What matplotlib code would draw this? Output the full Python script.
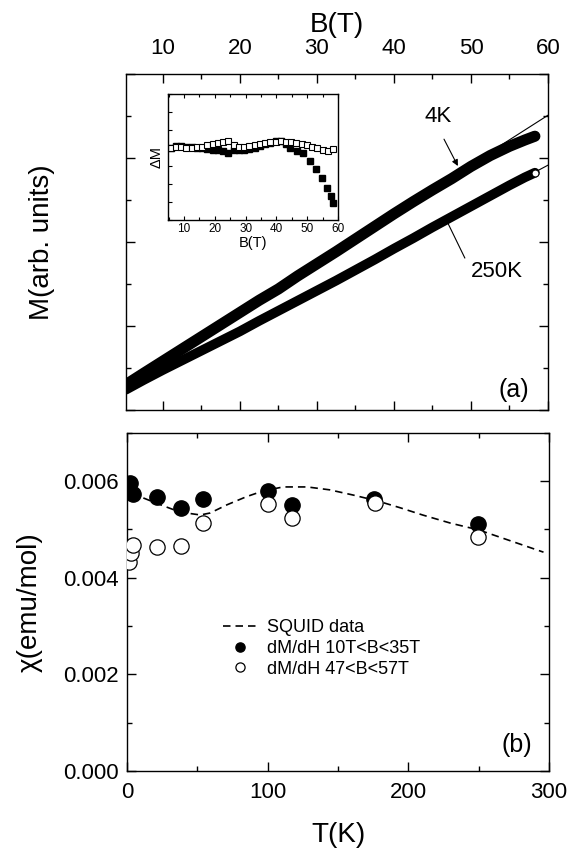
import matplotlib
matplotlib.use('Agg')
import matplotlib.pyplot as plt
from matplotlib.ticker import MultipleLocator, FormatStrFormatter

plt.rcParams['font.family'] = ['Liberation Sans', 'DejaVu Sans']

# --- panel (a): magnetisation vs field ---
B_curve = [5.2, 7.5, 10, 12.5, 15, 17.5, 20, 22.5, 25, 27.5, 30, 32.5,
           35, 37.5, 40, 42.5, 45, 47.5, 50, 52.5, 55, 57, 58.3]
M_4K = [0.60, 0.87, 1.16, 1.45, 1.74, 2.03, 2.32, 2.61, 2.88, 3.19, 3.48, 3.77,
        4.07, 4.37, 4.67, 4.96, 5.24, 5.51, 5.80, 6.06, 6.28, 6.43, 6.52]
M_250K = [0.48, 0.71, 0.95, 1.18, 1.41, 1.64, 1.87, 2.12, 2.36, 2.60, 2.84, 3.08,
          3.33, 3.58, 3.84, 4.09, 4.35, 4.60, 4.85, 5.10, 5.35, 5.54, 5.65]

# linear fits (end points)
fit_B = [5.2, 60]
fit_4K = [0.60, 7.02]
fit_250K = [0.48, 5.83]

# inset: Delta M
B_inset = [5.7, 7.4, 9.1, 10.8, 12.5, 14.2, 15.9, 17.6, 19.3, 21.0, 22.7, 24.4,
           26.1, 27.8, 29.5, 31.2, 32.9, 34.6, 36.3, 38.0, 39.7, 41.4, 43.1, 44.8,
           46.5, 48.2, 49.9, 51.6, 53.3, 55.0, 56.7, 58.3]
dM_250K = [3.98, 4.07, 4.02, 4.00, 4.00, 4.03, 4.07, 4.15, 4.22, 4.28, 4.33, 4.38,
           4.15, 4.07, 4.07, 4.10, 4.15, 4.20, 4.25, 4.30, 4.33, 4.35, 4.33, 4.30,
           4.25, 4.20, 4.13, 4.05, 3.97, 3.88, 3.82, 3.92]
B_inset4 = [5.7, 7.4, 9.1, 10.8, 12.5, 14.2, 15.9, 17.6, 19.3, 21.0, 22.7, 24.4,
            26.1, 27.8, 29.5, 31.2, 32.9, 34.6, 36.3, 38.0, 39.7, 41.4, 43.1, 44.4,
            46.6, 48.7, 50.9, 52.8, 54.9, 56.5, 57.7, 58.3]
dM_4K = [4.00, 4.12, 4.10, 4.07, 4.05, 4.00, 3.98, 3.95, 3.90, 3.85, 3.80, 3.70,
         3.85, 3.88, 3.90, 3.92, 4.00, 4.10, 4.20, 4.28, 4.38, 4.40, 4.20, 3.98,
         3.84, 3.70, 3.24, 2.81, 2.31, 1.76, 1.30, 0.96]

# --- panel (b): susceptibility vs temperature ---
T_squid = [3, 10, 22, 37.6, 52, 59, 71, 85, 97, 111, 128, 144, 161, 178, 194,
           210, 230, 250, 267, 296]
chi_squid = [0.00572, 0.00567, 0.00553, 0.00536, 0.00530, 0.00534, 0.00551,
             0.00568, 0.00580, 0.00588, 0.00588, 0.00582, 0.00571, 0.00559,
             0.00545, 0.00530, 0.00513, 0.00499, 0.00482, 0.00453]
T_low = [2, 4.5, 21, 38, 54, 100, 117, 175.5, 249.5]
chi_low = [0.00596, 0.00573, 0.00567, 0.00545, 0.00563, 0.00580, 0.00551, 0.00563, 0.00511]
T_high = [1.5, 2.5, 4.2, 21, 38, 54, 100, 117, 176, 249.5]
chi_high = [0.00433, 0.00451, 0.00468, 0.00464, 0.00466, 0.00513, 0.00553,
            0.00524, 0.00555, 0.00484]

fig = plt.figure(figsize=(5.75, 8.52), dpi=100)
ax1 = fig.add_axes([0.219, 0.519, 0.734, 0.394])
ax2 = fig.add_axes([0.221, 0.095, 0.734, 0.397])
axi = fig.add_axes([0.292, 0.742, 0.296, 0.148])

for ax in (ax1, ax2, axi):
    for s in ax.spines.values():
        s.set_linewidth(1.0)

# panel (a)
ax1.plot(fit_B, fit_4K, color='black', lw=0.8, zorder=1)
ax1.plot(fit_B, fit_250K, color='black', lw=0.8, zorder=1)
ax1.plot(B_curve, M_4K, color='black', lw=8, solid_capstyle='round', zorder=2)
ax1.plot(B_curve, M_250K, color='black', lw=7, solid_capstyle='round', zorder=2)
ax1.plot(B_curve[-1], M_250K[-1], 'o', ms=5, mfc='white', mec='black', mew=0.8, zorder=3)
ax1.set_xlim(5.2, 60)
ax1.set_ylim(0, 8)
ax1.xaxis.set_major_locator(MultipleLocator(10))
ax1.xaxis.set_minor_locator(MultipleLocator(5))
ax1.yaxis.set_major_locator(MultipleLocator(2))
ax1.yaxis.set_minor_locator(MultipleLocator(1))
ax1.tick_params(which='both', direction='in', top=True, bottom=True, left=True, right=True,
                labeltop=True, labelbottom=False, labelleft=False, width=1.0)
ax1.tick_params(which='major', length=6.5)
ax1.tick_params(which='minor', length=3.5)
ax1.tick_params(axis='x', labelsize=16, pad=11)
ax1.xaxis.set_label_position('top')
ax1.set_xlabel('B(T)', fontsize=20, labelpad=4)
ax1.set_ylabel('M(arb. units)', fontsize=20)
ax1.yaxis.set_label_coords(-0.168, 0.5)

ax1.text(45.7, 7.0, '4K', fontsize=16, ha='center', va='center')
ax1.annotate('', xy=(48.3, 5.81), xytext=(46.5, 6.45),
             arrowprops=dict(arrowstyle='-|>', color='black', lw=0.8,
                             mutation_scale=9, shrinkA=0, shrinkB=0))
ax1.text(53.4, 3.29, '250K', fontsize=16, ha='center', va='center')
ax1.plot([49.2, 47.0], [3.62, 4.45], color='black', lw=0.8)
ax1.text(0.919, 0.06, '(a)', transform=ax1.transAxes, fontsize=18, ha='center', va='center')

# inset
axi.plot(B_inset4, dM_4K, 's', ms=4, color='black', mec='black')
axi.plot(B_inset, dM_250K, 's', ms=4, mfc='white', mec='black', mew=0.8)
axi.set_xlim(4.8, 60)
axi.set_ylim(0, 7)
axi.xaxis.set_major_locator(MultipleLocator(10))
axi.xaxis.set_minor_locator(MultipleLocator(5))
axi.yaxis.set_major_locator(MultipleLocator(1))
axi.tick_params(which='both', direction='in', top=True, bottom=True, left=True, right=False,
                labelleft=False, width=0.8, labelsize=8.5, pad=2)
axi.tick_params(which='major', length=3)
axi.tick_params(which='minor', length=2)
axi.set_xlabel('B(T)', fontsize=10.5, labelpad=1)
axi.set_ylabel('ΔM', fontsize=10.5, labelpad=3)

# panel (b)
ax2.plot(T_squid, chi_squid, color='black', lw=1.2, dashes=(4.5, 3), label='SQUID data', zorder=2)
ax2.plot(T_low, chi_low, 'o', ms=11, color='black', label='dM/dH 10T<B<35T', zorder=3)
ax2.plot(T_high, chi_high, 'o', ms=11, mfc='white', mec='black', mew=0.9,
         label='dM/dH 47<B<57T', zorder=4)
ax2.set_xlim(0, 300)
ax2.set_ylim(0, 0.007)
ax2.xaxis.set_major_locator(MultipleLocator(100))
ax2.xaxis.set_minor_locator(MultipleLocator(50))
ax2.yaxis.set_major_locator(MultipleLocator(0.002))
ax2.yaxis.set_minor_locator(MultipleLocator(0.001))
ax2.yaxis.set_major_formatter(FormatStrFormatter('%.3f'))
ax2.tick_params(which='both', direction='in', top=True, bottom=True, left=True, right=True,
                width=1.0, labelsize=16)
ax2.tick_params(axis='x', pad=8)
ax2.tick_params(axis='y', pad=6)
ax2.tick_params(which='major', length=6.5)
ax2.tick_params(which='minor', length=3.5)
ax2.set_xlabel('T(K)', fontsize=20)
ax2.xaxis.set_label_coords(0.5, -0.151)
ax2.set_ylabel('χ(emu/mol)', fontsize=20)
ax2.yaxis.set_label_coords(-0.199, 0.5)
ax2.text(0.924, 0.077, '(b)', transform=ax2.transAxes, fontsize=18, ha='center', va='center')

leg = ax2.legend(loc='upper left', bbox_to_anchor=(0.227, 0.45), frameon=False,
                 fontsize=13, handlelength=1.9, handletextpad=0.55, labelspacing=0.22,
                 borderpad=0, borderaxespad=0, markerscale=0.6)

fig.savefig('out.png', dpi=100)
